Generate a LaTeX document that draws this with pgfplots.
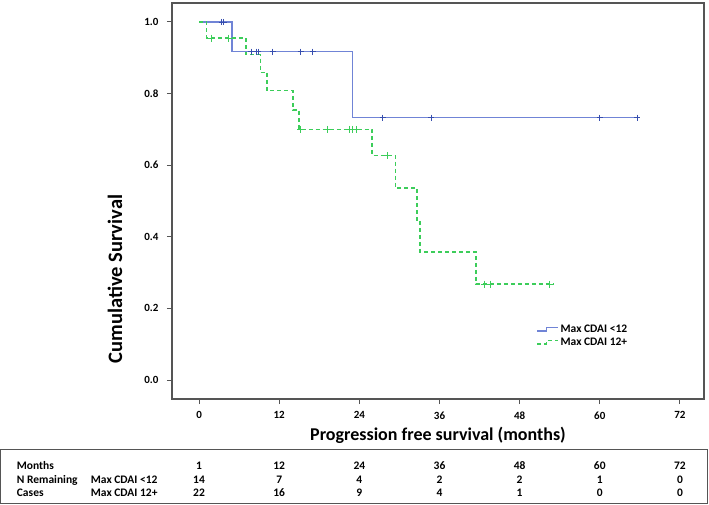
\documentclass[border=0pt]{standalone}
\usepackage{fontspec}
\setmainfont{Carlito}
\usepackage{pgfplots}
\pgfplotsset{compat=1.18}
\definecolor{kmblue}{RGB}{112,132,214}
\definecolor{kmbluedark}{RGB}{55,78,175}
\definecolor{kmgreen}{RGB}{60,205,90}
\definecolor{framegray}{RGB}{85,85,85}
\begin{document}
\begin{tikzpicture}
\begin{axis}[
  scale only axis, width=532pt, height=396pt,
  xmin=-4.05, xmax=75.6, ymin=-0.053, ymax=1.053,
  axis line style={framegray, line width=1.3pt},
  tick style={framegray, line width=1pt},
  tick align=outside, major tick length=5pt,
  xtick pos=lower, ytick pos=left,
  xtick={0,12,24,36,48,60,72}, xticklabels={0,12,24,36,48,60,72},
  ytick={0,0.2,0.4,0.6,0.8,1}, yticklabels={0.0,0.2,0.4,0.6,0.8,1.0},
  ticklabel style={font=\bfseries\fontsize{11}{13}\selectfont},
  xticklabel style={yshift=-4pt},
  yticklabel style={xshift=-5pt},
  xlabel={Progression free survival (months)},
  ylabel={Cumulative Survival},
  xlabel style={font=\bfseries\fontsize{18}{20}\selectfont, at={(axis description cs:0.5,0)}, anchor=base, yshift=-41pt},
  ylabel style={font=\bfseries\fontsize{20.5}{22}\selectfont, at={(axis description cs:-0.107,0.303)}, anchor=center},
  legend style={draw=none, fill=none, inner sep=0pt, row sep=1pt,
    at={(axis description cs:0.685,0.192)}, anchor=north west,
    font=\bfseries\fontsize{11.5}{13}\selectfont,
    nodes={inner sep=1.5pt}},
  legend cell align=left,
  legend image code/.code={\draw[#1] (0pt,-2pt) -- (9pt,-2pt) -- (9pt,1.5pt) -- (21pt,1.5pt);},
  clip=false,
]
\addplot[kmblue, line width=1.5pt, const plot, mark=none] coordinates {
 (0,1) (4.9,0.917) (23.0,0.733) (66,0.733)
};
\addlegendentry{Max CDAI <12}
\addplot[kmgreen, line width=1.5pt, dash pattern=on 4pt off 3pt, const plot, mark=none] coordinates {
 (0,1) (1.15,0.955) (7.0,0.909) (9.2,0.859) (10.2,0.808) (14.1,0.754) (15.0,0.700)
 (25.9,0.627) (29.4,0.537) (32.6,0.447) (33.1,0.358) (41.5,0.268) (53,0.268)
};
\addlegendentry{Max CDAI 12+}
\addplot[only marks, kmbluedark, mark=+, mark size=3pt, mark options={line width=0.9pt}, forget plot] coordinates {
 (3.4,1) (3.7,1) (7.8,0.917) (8.6,0.917) (8.9,0.917) (11.0,0.917) (15.2,0.917) (17.0,0.917)
 (27.5,0.733) (34.8,0.733) (60,0.733) (65.6,0.733)
};
\addplot[only marks, kmgreen, mark=+, mark size=3.5pt, mark options={line width=0.9pt}, forget plot] coordinates {
 (1.9,0.955) (4.4,0.955) (15.2,0.700) (19.2,0.700) (22.5,0.700) (22.9,0.700) (23.5,0.700)
 (28.2,0.627) (42.7,0.268) (43.6,0.268) (52.5,0.268)
};
\coordinate (O) at (rel axis cs:0,0);
\coordinate (m0) at (axis cs:0,0);
\coordinate (m12) at (axis cs:12,0);
\coordinate (m24) at (axis cs:24,0);
\coordinate (m36) at (axis cs:36,0);
\coordinate (m48) at (axis cs:48,0);
\coordinate (m60) at (axis cs:60,0);
\coordinate (m72) at (axis cs:72,0);
\end{axis}
\begin{scope}[shift={(O)}, xshift=-172pt, yshift=-105pt, x=1pt, y=1pt]
\path (0,0) rectangle (709,504);
\draw[framegray, line width=1pt] (1,1) rectangle (707,55);
\coordinate (r1) at (0,35);
\coordinate (r2) at (0,21);
\coordinate (r3) at (0,7.3);
\begin{scope}[every node/.style={inner sep=0pt, font=\bfseries\fontsize{11.5}{13}\selectfont}]
\node[anchor=base west] at (16.7,35) {Months};
\node[anchor=base west] at (16.7,21) {N Remaining};
\node[anchor=base west] at (16.7,7.3) {Cases};
\node[anchor=base west] at (90.7,21) {Max CDAI <12};
\node[anchor=base west] at (90.7,7.3) {Max CDAI 12+};
\foreach \c/\a/\b/\d in {m0/1/14/22, m12/12/7/16, m24/24/4/9, m36/36/2/4, m48/48/2/1, m60/60/1/0, m72/72/0/0}{
  \node[anchor=base] at (\c |- r1) {\a};
  \node[anchor=base] at (\c |- r2) {\b};
  \node[anchor=base] at (\c |- r3) {\d};
}
\end{scope}
\end{scope}
\end{tikzpicture}
\end{document}
